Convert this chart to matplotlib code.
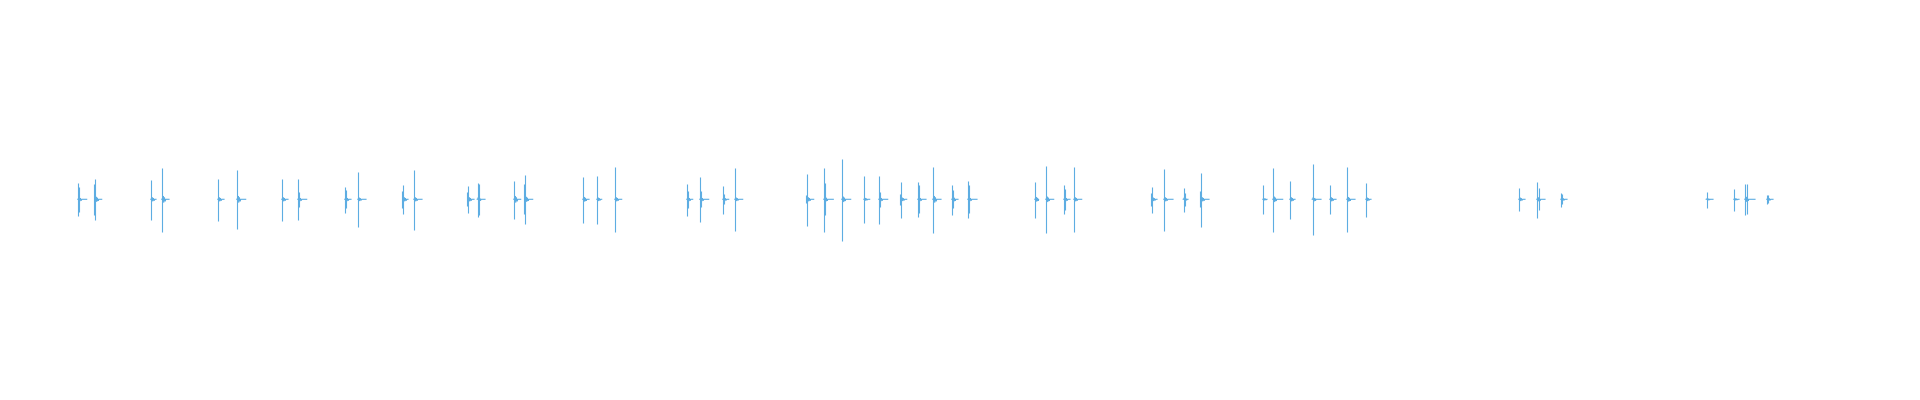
import matplotlib
matplotlib.use("Agg")
import matplotlib.pyplot as plt

# Burst (click) positions along the time axis
burst_t = [78.3, 95.3, 151.3, 162.3, 218.3, 237.3, 282.3, 298.3, 345.3, 358.3,
           403.3, 414.3, 468.3, 477.7, 514.3, 525.3, 583.3, 597.3, 615.3, 687.3,
           700.3, 723.3, 735.3, 807.3, 824.3, 842.3, 864.3, 879.3, 901.3, 918.3,
           933.3, 952.3, 968.3, 1035.3, 1046.3, 1064.3, 1074.3, 1152.3, 1164.3, 1183.7,
           1201.3, 1263.3, 1273.3, 1290.3, 1312.7, 1330.3, 1347.3, 1366.3, 1519.3, 1537.3,
           1561.3, 1706.7, 1734.3, 1745.3, 1767.3]

# Positive peak of each burst
peak_up = [16.3, 20.3, 19.3, 31.3, 20.3, 29.3, 20.3, 20.3, 12.3, 27.3,
           14.3, 29.3, 13.3, 16.3, 18.3, 24.3, 22.3, 23.3, 32.3, 15.3,
           22.3, 13.3, 31.3, 25.3, 31.3, 40.3, 23.3, 23.3, 17.3, 17.3,
           32.3, 14.3, 18.3, 17.3, 33.3, 14.3, 32.3, 12.3, 30.3, 11.3,
           26.3, 14.3, 31.3, 18.3, 35.3, 14.3, 32.3, 16.3, 11.3, 17.3,
           6.3, 7.3, 10.3, 15.3, 4.3]

# Negative peak (magnitude) of each burst
peak_down = [16.7, 20.7, 20.7, 32.7, 21.7, 29.7, 21.7, 20.7, 13.4, 27.7,
             14.7, 30.7, 13.7, 17.7, 19.7, 24.7, 23.7, 24.7, 32.7, 16.7,
             22.7, 14.7, 31.7, 26.7, 32.7, 41.7, 23.7, 24.7, 18.7, 17.7,
             33.7, 15.7, 18.7, 18.7, 33.7, 14.7, 32.7, 13.7, 31.7, 12.7,
             27.7, 14.7, 32.7, 19.7, 35.7, 14.7, 32.7, 17.7, 11.7, 18.7,
             7.7, 8.7, 11.7, 15.7, 4.7]

# Second swing next to the main peak (0 = none) and its side
second_amp = [12.3, 15.5, 0, 0, 0, 0, 0, 7.5, 9.0, 0,
              8.5, 0, 7.0, 15.5, 0, 15.0, 0, 0, 0, 8.5,
              8.0, 5.0, 0, 4.0, 16.0, 0, 0, 7.5, 5.5, 14.0,
              0, 9.0, 14.0, 0, 0, 10.5, 0, 6.5, 0, 6.5,
              8.0, 0, 0, 0, 0, 0, 0, 0, 0, 11.0,
              5.0, 0, 0, 15.0, 4.0]
second_side = [1, -1, 0, 0, 0, 0, 0, 1, 1, 0,
               -1, 0, -1, 1, 0, -1, 0, 0, 0, 1,
               1, 1, 0, -1, 1, 0, 0, 1, -1, 1,
               0, 1, 1, 0, 0, 1, 0, -1, 0, 1,
               -1, 0, 0, 0, 0, 0, 0, 0, 0, 2,
               1, 0, 0, 2, 1]

# Small ringing after each click
ring_amp = [2.0, 2.5, 2.0, 3.3, 2.0, 3.3, 2.0, 2.0, 2.0, 1.7,
            2.0, 2.0, 2.0, 2.0, 3.3, 2.5, 2.3, 1.7, 2.0, 2.0,
            2.0, 1.7, 1.7, 2.0, 2.5, 2.7, 1.3, 2.0, 1.7, 2.0,
            3.3, 2.5, 2.0, 2.3, 2.7, 2.0, 2.0, 1.7, 2.0, 1.7,
            2.0, 1.0, 2.7, 2.0, 2.0, 2.0, 2.3, 1.7, 1.7, 2.0,
            1.5, 1.0, 1.0, 2.5, 1.5]

# Length of the settled tail after each click
tail_len = [8.4, 6.4, 4.7, 6.7, 5.7, 8.4, 5.7, 8.4, 5.7, 7.7,
            4.7, 7.7, 5.7, 7.3, 6.4, 7.4, 5.7, 4.4, 6.4, 5.4,
            8.4, 5.4, 7.4, 6.4, 9.0, 8.4, 5.4, 8.4, 5.4, 7.7,
            7.7, 5.7, 8.7, 3.4, 7.4, 5.7, 7.4, 4.7, 8.7, 4.3,
            7.7, 3.7, 9.4, 4.7, 8.3, 5.7, 7.7, 4.7, 5.7, 7.7,
            5.7, 6.3, 4.7, 9.7, 5.7]

COLOR = "#5DADE2"
LW = 0.8

fig = plt.figure(figsize=(19.2, 4.0), dpi=100)
ax = fig.add_axes([0, 0, 1, 1])

for t, up, dn, sa, ss, ra, tl in zip(burst_t, peak_up, peak_down, second_amp,
                                      second_side, ring_amp, tail_len):
    # main swing
    ax.vlines(t, -dn, up, color=COLOR, lw=LW)
    # second swing
    if sa > 0:
        ax.vlines(t + ss, -sa, sa, color=COLOR, lw=LW)
    # ringing + settled tail
    xs = [t - 0.5, t, t + 0.7, t + 1.4, t + 2.1, t + 2.8, t + 3.5, t + tl]
    ys = [0, 0, ra, -ra, 0.6 * ra, -0.6 * ra, 0, 0]
    ax.plot(xs, ys, color=COLOR, lw=LW, solid_joinstyle="miter")

ax.set_xlim(0, 1920)
ax.set_ylim(-200.7, 199.3)
ax.axis("off")

fig.savefig("out.png", dpi=100)
